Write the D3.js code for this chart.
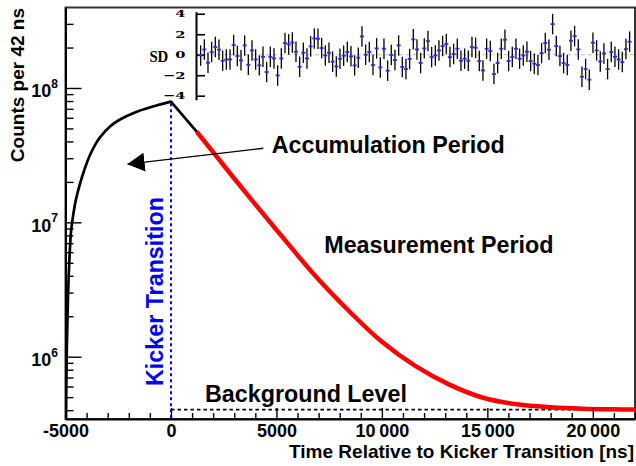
<!DOCTYPE html>
<html><head><meta charset="utf-8">
<script src="https://cdn.jsdelivr.net/npm/d3@7"></script>
<style>body{margin:0;background:#fff}svg{display:block}</style>
</head><body>
<script>
// ---------- data ----------
const riseTime   = [-4978, -4943, -4883, -4822, -4741, -4670, -4528, -4314, -4077, -3840, -3603, -3366, -2892, -2418, -1707, -853, 0];
const riseCounts = [3.0e5, 1.0e6, 2.78e6, 4.98e6, 8.47e6, 1.04e7, 1.42e7, 1.93e7, 2.54e7, 3.17e7, 3.76e7, 4.29e7, 5.17e7, 5.83e7, 6.58e7, 7.28e7, 7.91e7];
const kickTime   = [0, 1218];
const kickCounts = [7.91e7, 4.73e7];
const fitTime    = [1218, 2000, 3000, 4000, 5400, 6870, 8450, 10000, 11600, 13200, 14800, 16400, 18000, 19500, 21000, 22000];
const fitCounts  = [4.73e7, 3.33e7, 2.12e7, 1.36e7, 7.4e6, 3.95e6, 2.18e6, 1.29e6, 8.5e5, 6.2e5, 4.95e5, 4.42e5, 4.2e5, 4.1e5, 4.06e5, 4.05e5];
const backgroundLevel = 4.04e5;
const backgroundStart = 0;
const kickerTime = 0;
const sdValues = [
 -0.07, 0.52, -0.78, 0.26, 0.75, 0.49, -0.59, -0.46, -0.46, 0.94, -0.13, -0.55, 0.91, -0.98, 0.42, -0.46, -1.04, -0.20, -1.69, -0.20, -0.36, -2.02, -0.36, 1.14,
 1.01, 1.20, 0.29, -1.17, 0.20, -0.36, 0.81, 1.59, 1.56, 0.65, -0.07, 0.20, -0.68, -1.14, -0.39, -0.10, 0.26, -0.16, -1.04, -0.29, 1.79, 0.00, 0.26, -1.00,
 0.62, -1.24, 0.59, -1.56, -0.03, -0.52, 0.91, -1.20, -1.40, -0.42, 1.50, 0.52, -0.81, 0.62, 1.33, -0.23, -0.07, 0.42, 0.85, 1.04, -0.23, 0.07, 0.59, -0.59,
 -0.39, -0.59, 0.75, 0.68, -0.62, -1.53, 0.59, 0.36, -1.89, -0.81, 0.59, 1.46, -0.62, -0.23, 0.59, -0.39, -0.07, 0.29, -0.62, -0.88, -1.00, 0.16, 1.14, 0.49,
 2.99, 0.85, -0.13, -0.81, -1.00, 1.37, 1.82, 0.52, -2.15, -1.40, -2.44, 1.17, 0.42, -0.65, 0.13, -1.40, 0.26, -0.20, -0.46, -0.72, 0.55, 1.27];
const sdError = 1;
const sdTimeStart = 1408, sdTimeEnd = 21744;
const xMajorTicks = [-5000, 0, 5000, 10000, 15000, 20000];
const xTickLabels = ["-5000", "0", "5000", "10\u2009000", "15\u2009000", "20\u2009000"];
const yMajorTicks = [1e6, 1e7, 1e8];
const yTickExponents = ["6", "7", "8"];
const sdTicks = [4, 2, 0, -2, -4];
const sdTickLabels = ["4", "2", "0", "\u22122", "\u22124"];
// annotations (data coordinates)
const accText = {t: 4774, c: 3.28e7, label: "Accumulation Period"};
const measText = {t: 7268, c: 5.89e6, label: "Measurement Period"};
const bgText = {t: 1612, c: 4.59e5, label: "Background Level"};
const kickText = {t: -379, c: 6.05e5, label: "Kicker Transition"};
const arrowFrom = {t: 4376, c: 3.56e7}, arrowTo = {t: -2053, c: 2.71e7};

// ---------- layout ----------
const W = 636, H = 466;
const L = 65.5, R = 635, T = 7.5, B = 419;
const sans = "'Liberation Sans', Arial, Helvetica, sans-serif";
const serif = "'Liberation Serif', 'Times New Roman', serif";
const dserif = "'DejaVu Serif', serif";

const svg = d3.select("body").append("svg").attr("width", W).attr("height", H);
const x = d3.scaleLinear().domain([-5000, 22000]).range([L, R]);
const y = d3.scaleLog().domain([3.4386e5, 3.972e8]).range([B, T]);

const defs = svg.append("defs");
defs.append("clipPath").attr("id", "clip")
  .append("rect").attr("x", L).attr("y", T).attr("width", R - L).attr("height", B - T);
defs.append("marker").attr("id", "ah").attr("markerUnits", "userSpaceOnUse")
  .attr("viewBox", "0 -10 18 20").attr("markerWidth", 18).attr("markerHeight", 20)
  .attr("refX", 17).attr("refY", 0).attr("orient", "auto")
  .append("path").attr("d", "M0,-9.5L17.5,0L0,9.5Z").attr("fill", "#000");

// frame
svg.append("rect").attr("x", L).attr("y", T).attr("width", R - L).attr("height", B - T)
  .attr("fill", "none").attr("stroke", "#333").attr("stroke-width", 2);

const plot = svg.append("g").attr("clip-path", "url(#clip)");

// background dashed level
plot.append("line")
  .attr("x1", x(backgroundStart)).attr("x2", x(22000))
  .attr("y1", y(backgroundLevel)).attr("y2", y(backgroundLevel))
  .attr("stroke", "#000").attr("stroke-width", 1.6).attr("stroke-dasharray", "3.5,3");

// kicker vertical line
plot.append("line")
  .attr("x1", x(kickerTime)).attr("x2", x(kickerTime))
  .attr("y1", y(kickCounts[0]) + 1.5).attr("y2", B)
  .attr("stroke", "#0000ff").attr("stroke-width", 2).attr("stroke-dasharray", "3,3");

const line = d3.line().x(d => x(d[0])).y(d => y(d[1])).curve(d3.curveCatmullRom.alpha(0.5));
plot.append("path").datum(d3.zip(riseTime, riseCounts)).attr("d", line)
  .attr("fill", "none").attr("stroke", "#000").attr("stroke-width", 2.7).attr("stroke-linejoin", "round");
plot.append("path").datum(d3.zip(kickTime, kickCounts)).attr("d", d3.line().x(d => x(d[0])).y(d => y(d[1])))
  .attr("fill", "none").attr("stroke", "#000").attr("stroke-width", 2.7).attr("stroke-linecap", "round");
plot.append("path").datum(d3.zip(fitTime, fitCounts)).attr("d", line)
  .attr("fill", "none").attr("stroke", "#ff0000").attr("stroke-width", 4.5);

// axes
const xMinor = d3.range(-5000, 22001, 1000).filter(v => !xMajorTicks.includes(v));
svg.append("g").attr("transform", `translate(0,${B})`)
  .call(d3.axisBottom(x).tickValues(xMinor).tickSize(-6).tickSizeOuter(0).tickFormat(""))
  .call(g => g.select(".domain").remove())
  .call(g => g.selectAll("line").attr("stroke-width", 1.4));
svg.append("g").attr("transform", `translate(0,${B})`)
  .call(d3.axisBottom(x).tickValues(xMajorTicks).tickSize(-11).tickSizeOuter(0).tickPadding(5)
        .tickFormat((d, i) => xTickLabels[i]))
  .call(g => g.select(".domain").attr("stroke-width", 2))
  .call(g => g.selectAll("line").attr("stroke-width", 1.4))
  .call(g => g.selectAll("text").attr("font-family", sans).attr("font-weight", "bold")
        .attr("font-size", 18).attr("fill", "#000"));

const yMinor = [];
for (let e = 5; e <= 8; e++) for (let m = 2; m <= 9; m++) {
  const v = m * Math.pow(10, e);
  if (v >= y.domain()[0] && v <= y.domain()[1]) yMinor.push(v);
}
svg.append("g").attr("transform", `translate(${L},0)`)
  .call(d3.axisLeft(y).tickValues(yMinor).tickSize(-8).tickSizeOuter(0).tickFormat(""))
  .call(g => g.select(".domain").remove())
  .call(g => g.selectAll("line").attr("stroke-width", 1.4));
svg.append("g").attr("transform", `translate(${L},0)`)
  .call(d3.axisLeft(y).tickValues(yMajorTicks).tickSize(-16).tickSizeOuter(0).tickFormat(""))
  .call(g => g.select(".domain").attr("stroke-width", 2))
  .call(g => g.selectAll("line").attr("stroke-width", 1.4));

const yl = svg.append("g").selectAll("text").data(yMajorTicks).join("text")
  .attr("x", 58).attr("y", d => y(d) + 9.5).attr("text-anchor", "end")
  .attr("font-family", sans).attr("font-weight", "bold").attr("font-size", 18);
yl.append("tspan").text("10");
yl.append("tspan").attr("font-size", 12).attr("dy", -9.5).text((d, i) => yTickExponents[i]);

// axis titles
svg.append("text").attr("x", 634).attr("y", 458).attr("text-anchor", "end")
  .attr("font-family", sans).attr("font-weight", "bold").attr("font-size", 19)
  .text("Time Relative to Kicker Transition [ns]");
svg.append("text").attr("transform", "translate(23.5,8) rotate(-90)").attr("text-anchor", "end")
  .attr("font-family", sans).attr("font-weight", "bold").attr("font-size", 19)
  .text("Counts per 42 ns");

// annotations
const ann = (o, color) => svg.append("text")
  .attr("x", x(o.t)).attr("y", y(o.c)).attr("font-family", sans).attr("font-weight", "bold")
  .attr("font-size", 23.3).attr("fill", color || "#000").text(o.label);
ann(accText); ann(measText); ann(bgText);
svg.append("text").attr("transform", `translate(${x(kickText.t)},${y(kickText.c)}) rotate(-90)`)
  .attr("font-family", sans).attr("font-weight", "bold").attr("font-size", 23.3)
  .attr("fill", "#0000ff").text(kickText.label);
svg.append("line").attr("x1", x(arrowFrom.t)).attr("y1", y(arrowFrom.c))
  .attr("x2", x(arrowTo.t)).attr("y2", y(arrowTo.c))
  .attr("stroke", "#000").attr("stroke-width", 1.4).attr("marker-end", "url(#ah)");

// ---------- inset (residuals in SD) ----------
const ix = d3.scaleLinear().domain([0, sdValues.length - 1]).range([x(sdTimeStart), x(sdTimeEnd)]);
const iy = d3.scaleLinear().domain([-4.4, 4.2]).range([99.8, 11.7]);
const inset = svg.append("g");
inset.append("line").attr("x1", 196).attr("x2", R).attr("y1", iy(0)).attr("y2", iy(0))
  .attr("stroke", "#bbb").attr("stroke-width", 1.2).attr("stroke-dasharray", "4,3");
inset.append("g").attr("transform", "translate(196,0)")
  .call(d3.axisLeft(iy).tickValues(sdTicks).tickSize(-9).tickSizeOuter(0).tickFormat(""))
  .call(g => g.select(".domain").attr("stroke-width", 2))
  .call(g => g.selectAll("line").attr("stroke-width", 1.6));
inset.selectAll("text.sdl").data(sdTicks).join("text").attr("class", "sdl")
  .attr("transform", d => `translate(185.5,${iy(d) + 3.6}) scale(1.05,0.72)`)
  .attr("text-anchor", "end").attr("font-family", dserif).attr("font-weight", "bold")
  .attr("font-size", 14).text((d, i) => sdTickLabels[i]);
inset.append("text").attr("transform", "translate(168.3,61.5) scale(0.87,1)")
  .attr("text-anchor", "end").attr("font-family", serif).attr("font-weight", "bold")
  .attr("font-size", 17).text("SD");
inset.selectAll("line.err").data(sdValues).join("line").attr("class", "err")
  .attr("x1", (d, i) => ix(i)).attr("x2", (d, i) => ix(i))
  .attr("y1", d => iy(d - sdError)).attr("y2", d => iy(d + sdError))
  .attr("stroke", "#000").attr("stroke-width", 1.3);
inset.selectAll("rect.mk").data(sdValues).join("rect").attr("class", "mk")
  .attr("x", (d, i) => ix(i) - 2).attr("y", d => iy(d) - 0.9)
  .attr("width", 4).attr("height", 1.8).attr("fill", "#2a2aff");
</script>
</body></html>
